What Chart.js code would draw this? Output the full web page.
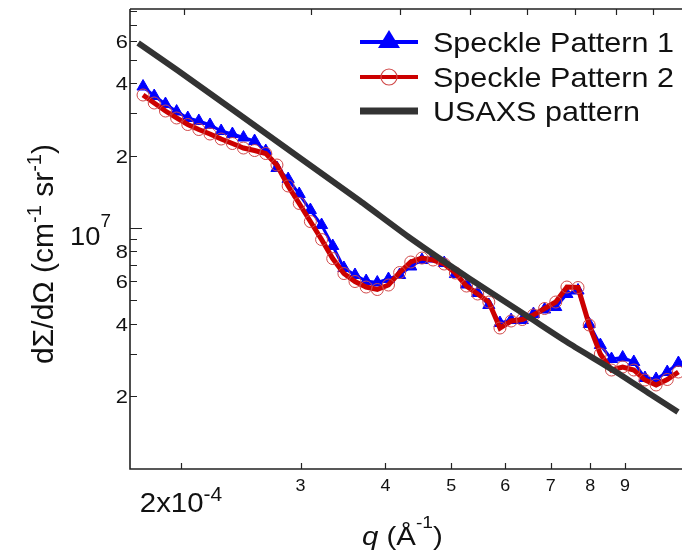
<!DOCTYPE html>
<html><head><meta charset="utf-8">
<script src="https://cdn.jsdelivr.net/npm/chart.js@4.4.1/dist/chart.umd.min.js"></script>
<style>html,body{margin:0;padding:0;background:#fff;}canvas{display:block;}</style>
</head><body>
<canvas id="c" width="682" height="557"></canvas>
<script>
// ---- data ----
const q = [1.760e-4, 1.828e-4, 1.899e-4, 1.972e-4, 2.048e-4, 2.126e-4, 2.208e-4, 2.293e-4, 2.382e-4, 2.473e-4,
           2.568e-4, 2.667e-4, 2.770e-4, 2.877e-4, 2.987e-4, 3.102e-4, 3.222e-4, 3.346e-4, 3.475e-4, 3.608e-4,
           3.747e-4, 3.891e-4, 4.041e-4, 4.197e-4, 4.358e-4, 4.526e-4, 4.700e-4, 4.881e-4, 5.069e-4, 5.264e-4,
           5.467e-4, 5.677e-4, 5.895e-4, 6.122e-4, 6.358e-4, 6.603e-4, 6.857e-4, 7.121e-4, 7.395e-4, 7.679e-4,
           7.975e-4, 8.282e-4, 8.601e-4, 8.932e-4, 9.276e-4, 9.633e-4, 1.0003e-3, 1.0388e-3, 1.0788e-3];
const speckle1 = [3.880e7, 3.543e7, 3.281e7, 3.053e7, 2.870e7, 2.789e7, 2.684e7, 2.533e7, 2.461e7, 2.380e7,
                  2.301e7, 2.091e7, 1.777e7, 1.599e7, 1.385e7, 1.188e7, 1.029e7, 8.416e6, 6.817e6, 6.375e6,
                  6.017e6, 5.932e6, 6.134e6, 6.375e6, 6.916e6, 7.358e6, 7.463e6, 7.150e6, 6.433e6, 5.819e6,
                  5.365e6, 4.782e6, 4.025e6, 4.141e6, 4.141e6, 4.386e6, 4.580e6, 4.690e6, 5.313e6, 5.494e6,
                  3.987e6, 3.259e6, 2.850e6, 2.892e6, 2.770e6, 2.376e6, 2.353e6, 2.516e6, 2.743e6];
const speckle2 = [3.577e7, 3.313e7, 3.068e7, 2.870e7, 2.696e7, 2.570e7, 2.461e7, 2.346e7, 2.247e7, 2.152e7,
                  2.101e7, 2.042e7, 1.829e7, 1.496e7, 1.265e7, 1.064e7, 8.956e6, 7.463e6, 6.465e6, 5.989e6,
                  5.681e6, 5.547e6, 5.791e6, 6.527e6, 7.219e6, 7.500e6, 7.358e6, 7.082e6, 6.497e6, 5.735e6,
                  5.313e6, 4.920e6, 3.836e6, 4.102e6, 4.161e6, 4.345e6, 4.624e6, 4.920e6, 5.681e6, 5.654e6,
                  3.948e6, 2.989e6, 2.565e6, 2.640e6, 2.565e6, 2.331e6, 2.222e6, 2.342e6, 2.516e6];
const usaxsQ = [1.731e-4, 1.975e-4, 2.445e-4, 2.995e-4, 3.671e-4, 4.348e-4, 5.327e-4, 6.529e-4, 7.474e-4, 8.644e-4, 9.798e-4, 1.0773e-3];
const usaxs  = [5.887e7, 4.545e7, 2.953e7, 1.956e7, 1.295e7, 9.087e6, 6.134e6, 4.221e6, 3.290e6, 2.565e6, 2.038e6, 1.715e6];

const seriesNames = ['Speckle Pattern 1', 'Speckle Pattern 2', 'USAXS pattern'];
const xTicks = [2e-4, 3e-4, 4e-4, 5e-4, 6e-4, 7e-4, 8e-4, 9e-4];
const xTickLabels = ['2x10^-4', '3', '4', '5', '6', '7', '8', '9'];
const yTicks = [2e6, 3e6, 4e6, 5e6, 6e6, 7e6, 8e6, 9e6, 1e7, 2e7, 3e7, 4e7, 5e7, 6e7, 7e7, 8e7];
const yTickLabels = ['2', '', '4', '', '6', '', '8', '', '10^7', '2', '', '4', '', '6', '', ''];
const xTitle = [['q', 'i'], [' (Å', 'n'], ['-1', 's'], [')', 'n']];
const yTitle = [['dΣ/dΩ (cm', 'n'], ['-1', 's'], [' sr', 'n'], ['-1', 's'], [')', 'n']];

// ---- drawing ----
const FONT = '"Liberation Sans", Arial, Helvetica, sans-serif';
const INK = '#222222';

function drawParts(ctx, parts, x, y, align, sx) {
  sx = sx || 1;
  let total = 0;
  parts.forEach(p => {
    ctx.font = (p.italic ? 'italic ' : '') + p.size + 'px ' + FONT;
    p.w = ctx.measureText(p.t).width * sx; total += p.w;
  });
  let cx = align === 'right' ? x - total : (align === 'center' ? x - total / 2 : x);
  ctx.textAlign = 'left'; ctx.textBaseline = 'alphabetic';
  parts.forEach(p => {
    ctx.font = (p.italic ? 'italic ' : '') + p.size + 'px ' + FONT;
    ctx.save();
    ctx.translate(cx, y + (p.dy || 0));
    ctx.scale(sx, 1);
    ctx.fillText(p.t, 0, 0);
    ctx.restore();
    cx += p.w;
  });
}
function titleParts(spec, main, sup, rise) {
  return spec.map(([t, k]) => ({t, size: k === 's' ? sup : main, dy: k === 's' ? -rise : 0, italic: k === 'i'}));
}

const framePlugin = {
  id: 'frame',
  afterDraw(chart) {
    const ctx = chart.ctx, a = chart.chartArea;
    const sx = chart.scales.x, sy = chart.scales.y, st = chart.scales.xTop;
    ctx.save();
    ctx.strokeStyle = INK; ctx.fillStyle = '#111';
    // frame lines
    ctx.lineWidth = 1.6;
    ctx.beginPath();
    ctx.moveTo(a.left, a.top); ctx.lineTo(a.right, a.top);
    ctx.moveTo(a.left, a.top); ctx.lineTo(a.left, a.bottom); ctx.lineTo(a.right, a.bottom);
    ctx.stroke();
    // ticks (inward)
    ctx.lineWidth = 1.2;
    ctx.beginPath();
    xTicks.forEach(v => {
      const px = Math.round(sx.getPixelForValue(v)) + 0.5;
      ctx.moveTo(px, a.bottom); ctx.lineTo(px, a.bottom - 6);
      const pt = Math.round(st.getPixelForValue(v)) + 0.5;
      ctx.moveTo(pt, a.top); ctx.lineTo(pt, a.top + 6);
    });
    yTicks.forEach((v, i) => {
      const py = Math.round(sy.getPixelForValue(v)) + 0.5;
      const len = yTickLabels[i].includes('^') ? 12 : 7;
      ctx.moveTo(a.left, py); ctx.lineTo(a.left + len, py);
    });
    ctx.stroke();
    // x tick labels
    xTicks.forEach((v, i) => {
      const lab = xTickLabels[i]; const px = sx.getPixelForValue(v);
      if (lab.includes('^')) {
        const [m, s] = lab.split('^');
        drawParts(ctx, [{t: m, size: 28}, {t: s, size: 20, dy: -11}], px - 41, a.bottom + 43, 'left', 1.05);
      } else {
        drawParts(ctx, [{t: lab, size: 16}], px, a.bottom + 22, 'center', 1.12);
      }
    });
    // y tick labels
    yTicks.forEach((v, i) => {
      const lab = yTickLabels[i]; if (!lab) return;
      const py = sy.getPixelForValue(v);
      if (lab.includes('^')) {
        const [m, s] = lab.split('^');
        drawParts(ctx, [{t: m, size: 26, dy: 17}, {t: s, size: 18, dy: -1}], a.left - 19, py, 'right', 1.05);
      } else {
        drawParts(ctx, [{t: lab, size: 19}], a.left - 2, py + 7, 'right', 1.15);
      }
    });
    // axis titles
    drawParts(ctx, titleParts(xTitle, 26, 17, 17), 362, 545, 'left', 1.13);
    ctx.save();
    ctx.translate(53, 254); ctx.rotate(-Math.PI / 2);
    drawParts(ctx, titleParts(yTitle, 30, 20, 12), 0, 0, 'center', 1);
    ctx.restore();
    // legend
    const rows = [42, 77, 111];
    const lx0 = 360, lx1 = 418, lmx = 389;
    ctx.lineCap = 'butt';
    ctx.strokeStyle = '#0000ff'; ctx.lineWidth = 4;
    ctx.beginPath(); ctx.moveTo(lx0, rows[0]); ctx.lineTo(lx1, rows[0]); ctx.stroke();
    ctx.fillStyle = '#0000ff';
    ctx.beginPath(); ctx.moveTo(lmx, rows[0] - 12); ctx.lineTo(lmx + 11, rows[0] + 6); ctx.lineTo(lmx - 11, rows[0] + 6); ctx.closePath(); ctx.fill();
    ctx.strokeStyle = '#cc0000'; ctx.lineWidth = 4;
    ctx.beginPath(); ctx.moveTo(lx0, rows[1]); ctx.lineTo(lx1, rows[1]); ctx.stroke();
    ctx.strokeStyle = '#d04848'; ctx.lineWidth = 1.2;
    ctx.beginPath(); ctx.arc(lmx, rows[1], 8, 0, Math.PI * 2); ctx.stroke();
    ctx.strokeStyle = '#333333'; ctx.lineWidth = 7;
    ctx.beginPath(); ctx.moveTo(lx0, rows[2]); ctx.lineTo(lx1, rows[2]); ctx.stroke();
    ctx.fillStyle = '#111';
    seriesNames.forEach((n, i) => drawParts(ctx, [{t: n, size: 28}], 433, rows[i] + 10, 'left', 1.09));
    ctx.restore();
  }
};

const pts = (xs, ys) => xs.map((v, i) => ({x: v, y: ys[i]}));

new Chart(document.getElementById('c').getContext('2d'), {
  type: 'scatter',
  data: {
    datasets: [
      {label: seriesNames[2], data: pts(usaxsQ, usaxs), showLine: true, borderColor: '#333333', borderWidth: 6,
       pointRadius: 0, tension: 0.2, order: 0},
      {label: seriesNames[1], data: pts(q, speckle2), showLine: true, borderColor: '#cc0000', borderWidth: 5,
       pointStyle: 'circle', pointRadius: 6, pointBorderWidth: 1, pointBorderColor: '#d04848',
       pointBackgroundColor: 'rgba(0,0,0,0)', order: 1},
      {label: seriesNames[0], data: pts(q, speckle1), showLine: true, borderColor: '#0000ff', borderWidth: 3,
       pointStyle: 'triangle', pointRadius: 7, pointBorderWidth: 1, pointBorderColor: '#0000ff',
       pointBackgroundColor: '#0000ff', order: 2}
    ]
  },
  options: {
    responsive: false, devicePixelRatio: 1, animation: false, events: [],
    layout: {autoPadding: false, padding: {left: 130, top: 9, right: 0, bottom: 88}},
    plugins: {legend: {display: false}, tooltip: {enabled: false}},
    scales: {
      x: {type: 'logarithmic', min: 1.684e-4, max: 1.092e-3, display: false},
      xTop: {type: 'logarithmic', axis: 'x', position: 'top', min: 1.681e-4, max: 9.876e-4, display: false},
      y: {type: 'logarithmic', min: 9.934e5, max: 8.155e7, display: false}
    }
  },
  plugins: [framePlugin]
});
</script>
</body></html>
